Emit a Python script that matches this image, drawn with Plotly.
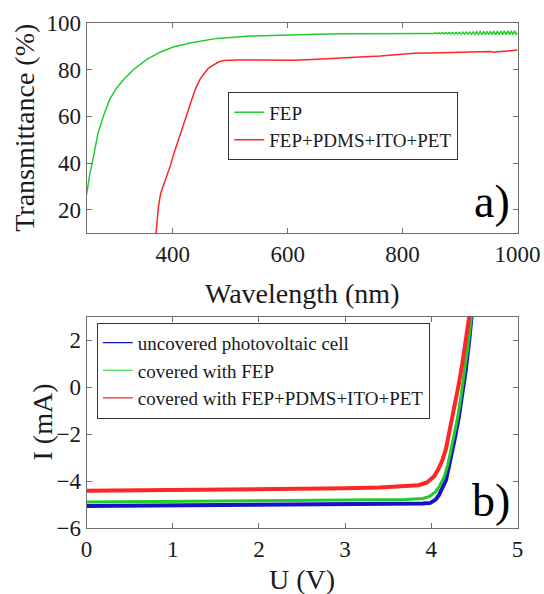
import plotly.graph_objects as go

# ---- panel a) transmittance ----
wl_fep = [250, 256, 262, 270, 279, 290, 302, 314, 331, 355, 378, 401, 430, 477, 535, 587, 650, 700, 760, 800, 830,
          833, 836, 839, 842, 845, 848, 851, 854, 857, 860, 863, 866, 869, 872, 875, 878, 881, 884, 887, 890,
          893, 896, 899, 902, 905, 908, 911, 914, 917, 920, 923, 926, 929, 932, 935, 938, 941, 944, 947, 950,
          953, 956, 959, 962, 965, 968, 971, 974, 977, 980, 983, 986, 989, 992, 995, 998, 1000]
t_fep = [26.4, 35.6, 42.7, 52.7, 59.8, 67.0, 72.0, 75.5, 79.8, 84.3, 87.4, 89.6, 91.3, 93.3, 94.3, 94.8, 95.1, 95.3, 95.4, 95.5, 95.5,
         95.6, 95.4, 95.6, 95.4, 95.65, 95.35, 95.65, 95.35, 95.7, 95.3, 95.7, 95.3, 95.75, 95.25, 95.8, 95.25, 95.8, 95.2, 95.85, 95.2,
         95.9, 95.15, 95.9, 95.1, 96.0, 95.1, 96.0, 95.05, 96.05, 95.0, 96.1, 95.0, 96.15, 94.95, 96.2, 94.95, 96.25, 94.9, 96.3, 94.9,
         96.35, 94.9, 96.4, 94.85, 96.4, 94.85, 96.45, 94.85, 96.5, 94.85, 96.5, 94.9, 96.5, 94.9, 96.55, 94.9, 95.8]

wl_stack = [371, 373, 375, 379, 384, 390, 396, 402, 408, 414, 419, 425, 431, 437, 442, 448, 454, 462, 471, 480, 489,
            500, 512, 530, 547, 560, 570, 587, 610, 643, 674, 705, 734, 762, 790, 820, 850, 878, 910, 940, 953,
            958, 962, 980, 1000]
t_stack = [10, 15, 21, 27, 30.5, 34.5, 39, 44, 48.5, 53, 57.5, 62, 66, 70, 73, 76, 78, 80.5, 82, 83.2, 83.8,
           84.0, 84.1, 84.1, 84.1, 83.9, 83.8, 84.1, 84.0, 84.3, 84.8, 85.1, 85.5, 85.8, 86.3, 86.9, 87.1, 87.3, 87.5, 87.6, 87.7,
           87.4, 87.5, 88.0, 88.3]

# ---- panel b) I-V curves ----
v_unc = [0, 1, 2, 3, 3.4, 3.7, 3.9, 3.99, 4.05, 4.09, 4.13, 4.17, 4.20, 4.24, 4.28, 4.32, 4.36, 4.40, 4.44, 4.46, 4.48]
i_unc = [-5.05, -5.03, -5.01, -4.99, -4.98, -4.97, -4.95, -4.92, -4.78, -4.58, -4.30, -3.95, -3.45, -2.81, -2.05, -1.25, -0.27, 0.73, 2.0, 3.0, 3.5]

v_fep = [0, 1, 2, 3, 3.4, 3.7, 3.9, 3.98, 4.05, 4.10, 4.15, 4.19, 4.22, 4.26, 4.30, 4.34, 4.38, 4.42, 4.46, 4.48]
i_fep = [-4.88, -4.86, -4.83, -4.81, -4.80, -4.78, -4.73, -4.64, -4.44, -4.18, -3.80, -3.30, -2.81, -2.12, -1.39, -0.50, 0.45, 1.60, 2.86, 3.5]

v_stk = [0, 1, 2, 3, 3.4, 3.7, 3.85, 3.95, 4.03, 4.08, 4.13, 4.17, 4.20, 4.24, 4.28, 4.32, 4.36, 4.40, 4.44, 4.46]
i_stk = [-4.40, -4.38, -4.35, -4.30, -4.26, -4.22, -4.17, -4.05, -3.80, -3.50, -3.09, -2.62, -2.10, -1.42, -0.68, 0.15, 1.02, 2.0, 3.0, 3.5]

names_a = ["FEP", "FEP+PDMS+ITO+PET"]
names_b = ["uncovered photovoltaic cell", "covered with FEP", "covered with FEP+PDMS+ITO+PET"]

x_ticks_a = [400, 600, 800, 1000]
y_ticks_a = [20, 40, 60, 80, 100]
x_ticks_b = [0, 1, 2, 3, 4, 5]
y_ticks_b = [-6, -4, -2, 0, 2]

GREEN = "#22cc2a"
RED = "#ff2626"
BLUE = "#1414c4"
FONT = "Liberation Serif"
TXT = "#1a1a1a"
FRAME = "#6e6e6e"

fig = go.Figure()
# data traces (legend handled by thin-line proxy entries, as in the original)
fig.add_trace(go.Scatter(x=wl_fep, y=t_fep, mode="lines", name=names_a[0], showlegend=False,
                         line=dict(color=GREEN, width=1.5), xaxis="x", yaxis="y"))
fig.add_trace(go.Scatter(x=wl_stack, y=t_stack, mode="lines", name=names_a[1], showlegend=False,
                         line=dict(color=RED, width=1.5), xaxis="x", yaxis="y"))
fig.add_trace(go.Scatter(x=v_unc, y=i_unc, mode="lines", name=names_b[0], showlegend=False,
                         line=dict(color=BLUE, width=4), xaxis="x2", yaxis="y2"))
fig.add_trace(go.Scatter(x=v_fep, y=i_fep, mode="lines", name=names_b[1], showlegend=False,
                         line=dict(color=GREEN, width=3), xaxis="x2", yaxis="y2"))
fig.add_trace(go.Scatter(x=v_stk, y=i_stk, mode="lines", name=names_b[2], showlegend=False,
                         line=dict(color=RED, width=4), xaxis="x2", yaxis="y2"))

for nm, col in zip(names_a, [GREEN, RED]):
    fig.add_trace(go.Scatter(x=[None], y=[None], mode="lines", name=nm, legend="legend",
                             line=dict(color=col, width=1.5), xaxis="x", yaxis="y"))
for nm, col in zip(names_b, [BLUE, GREEN, RED]):
    fig.add_trace(go.Scatter(x=[None], y=[None], mode="lines", name=nm, legend="legend2",
                             line=dict(color=col, width=1.2), xaxis="x2", yaxis="y2"))

W, H = 544, 594
x0, x1 = 86.5 / W, 517.5 / W

axis_common = dict(showline=True, mirror="ticks", linecolor=FRAME, linewidth=1,
                   ticks="inside", ticklen=5, tickcolor=FRAME, tickwidth=1,
                   showgrid=False, zeroline=False, automargin=False,
                   tickfont=dict(family=FONT, size=23, color=TXT))

fig.update_layout(
    width=W, height=H,
    margin=dict(l=0, r=0, t=0, b=0, pad=0, autoexpand=False),
    paper_bgcolor="white", plot_bgcolor="white",
    font=dict(family=FONT, color=TXT),
    xaxis=dict(domain=[x0, x1], range=[250, 1000], tickvals=x_ticks_a, anchor="y", **axis_common),
    yaxis=dict(domain=[1 - 233.3 / H, 1 - 22.7 / H], range=[10, 100], tickvals=y_ticks_a, anchor="x", **axis_common),
    xaxis2=dict(domain=[x0, x1], range=[0, 5], tickvals=x_ticks_b, anchor="y2", **axis_common),
    yaxis2=dict(domain=[1 - 528.3 / H, 1 - 316.7 / H], range=[-6, 3], tickvals=y_ticks_b, anchor="x2", **axis_common),
    legend=dict(x=228.3 / W, y=1 - 92.3 / H, xanchor="left", yanchor="top",
                bgcolor="white", bordercolor="#333333", borderwidth=1,
                font=dict(family=FONT, size=19, color=TXT)),
    legend2=dict(x=96.8 / W, y=1 - 322.7 / H, xanchor="left", yanchor="top",
                 bgcolor="white", bordercolor="#333333", borderwidth=1,
                 font=dict(family=FONT, size=19, color=TXT)),
    showlegend=True,
)

ann = [
    dict(text="Wavelength (nm)", x=(x0 + x1) / 2, y=1 - 293 / H, size=28),
    dict(text="U (V)", x=(x0 + x1) / 2, y=1 - 579 / H, size=28),
    dict(text="Transmittance (%)", x=24.3 / W, y=1 - 127.5 / H, size=28, angle=-90),
    dict(text="I (mA)", x=42 / W, y=1 - 422.5 / H, size=28, angle=-90),
]
for a in ann:
    fig.add_annotation(text=a["text"], x=a["x"], y=a["y"], xref="paper", yref="paper",
                       xanchor="center", yanchor="middle", showarrow=False, textangle=a.get("angle", 0),
                       font=dict(family=FONT, size=a["size"], color=TXT))

fig.add_annotation(text="a)", x=512 / W, y=1 - 201.7 / H, xref="paper", yref="paper",
                   xanchor="right", yanchor="middle", showarrow=False,
                   font=dict(family=FONT, size=46, color="black"))
fig.add_annotation(text="b)", x=512 / W, y=1 - 500.8 / H, xref="paper", yref="paper",
                   xanchor="right", yanchor="middle", showarrow=False,
                   font=dict(family=FONT, size=46, color="black"))

fig.write_html("out.html", config={"displayModeBar": False},
               post_script="document.body.style.margin='0px';")
